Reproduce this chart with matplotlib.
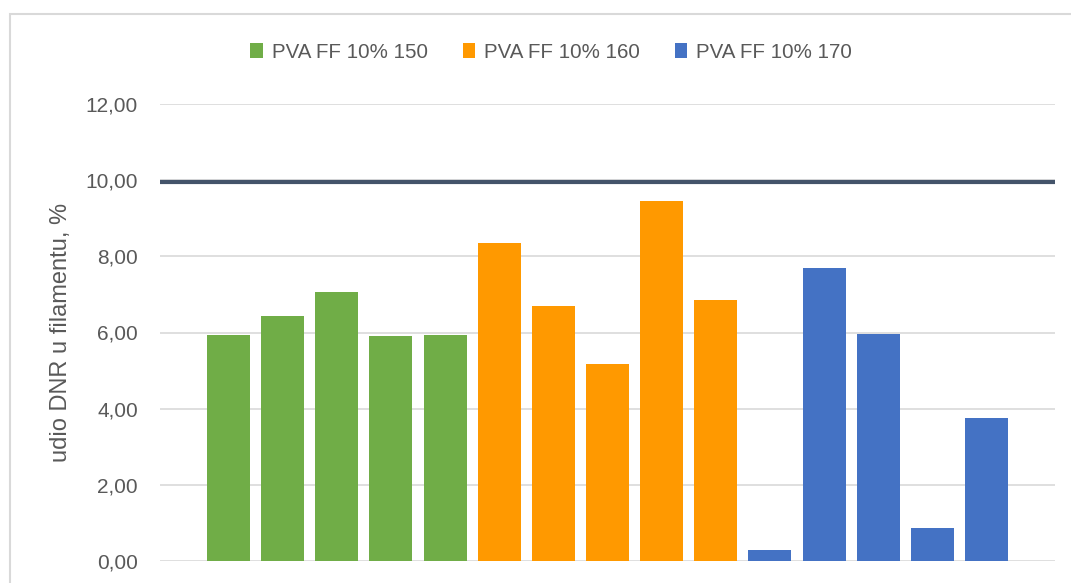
import matplotlib
matplotlib.use("Agg")
import matplotlib.pyplot as plt
from matplotlib.patches import Rectangle, Patch

plt.rcParams['font.family'] = ['Liberation Sans', 'DejaVu Sans']

series_names = ["PVA FF 10% 150", "PVA FF 10% 160", "PVA FF 10% 170"]
green_vals = [5.93, 6.43, 7.06, 5.91, 5.93]
orange_vals = [8.35, 6.69, 5.17, 9.45, 6.85]
blue_vals = [0.29, 7.69, 5.96, 0.87, 3.75]
limit_value = 9.95
yticks = [0, 2, 4, 6, 8, 10, 12]
ytick_labels = ["0,00", "2,00", "4,00", "6,00", "8,00", "10,00", "12,00"]
ylabel = "udio DNR u filamentu, %"

colors = ["#70AD47", "#FF9900", "#4472C4"]
W, H = 1071, 583
fig = plt.figure(figsize=(W / 100, H / 100), dpi=100)

# chart border
fig.patches.append(Rectangle((10 / W, -0.1), 1.2, (H - 14) / H + 0.1, transform=fig.transFigure,
                             fill=False, edgecolor="#d9d9d9", linewidth=1.5))

ax = fig.add_axes([160 / W, (H - 561) / H, 895 / W, (561 - 104) / H])
all_vals = [green_vals, orange_vals, blue_vals]
x0 = 0
for vals, c, name in zip(all_vals, colors, series_names):
    xs = list(range(x0, x0 + len(vals)))
    ax.bar(xs, vals, width=0.794, color=c, zorder=3, label=name)
    x0 += len(vals)

ax.axhline(limit_value, color="#44546A", linewidth=3, zorder=4)
ax.set_xlim(-1.265, x0 - 1 + 1.265)
ax.set_ylim(0, 12)
ax.set_yticks(yticks)
ax.set_yticklabels(ytick_labels, fontsize=15, color="#595959")
ax.set_xticks([])
ax.tick_params(axis='y', length=0, pad=16)
ax.yaxis.grid(True, color="#d9d9d9", linewidth=1.2, zorder=0)
for s in ax.spines.values():
    s.set_visible(False)
ax.set_ylabel(ylabel, fontsize=17, color="#595959")
ax.yaxis.set_label_coords(-88 / 895, 0.5)

handles = [Patch(facecolor=c, label=n) for c, n in zip(colors, series_names)]
fig.legend(handles=handles, loc="center", bbox_to_anchor=(551 / W, 1 - 52 / H), ncol=3,
           frameon=False, fontsize=14.8, labelcolor="#595959", handlelength=0.63, handleheight=0.7,
           handletextpad=0.4, columnspacing=1.7)

fig.savefig("out.png", dpi=100)
